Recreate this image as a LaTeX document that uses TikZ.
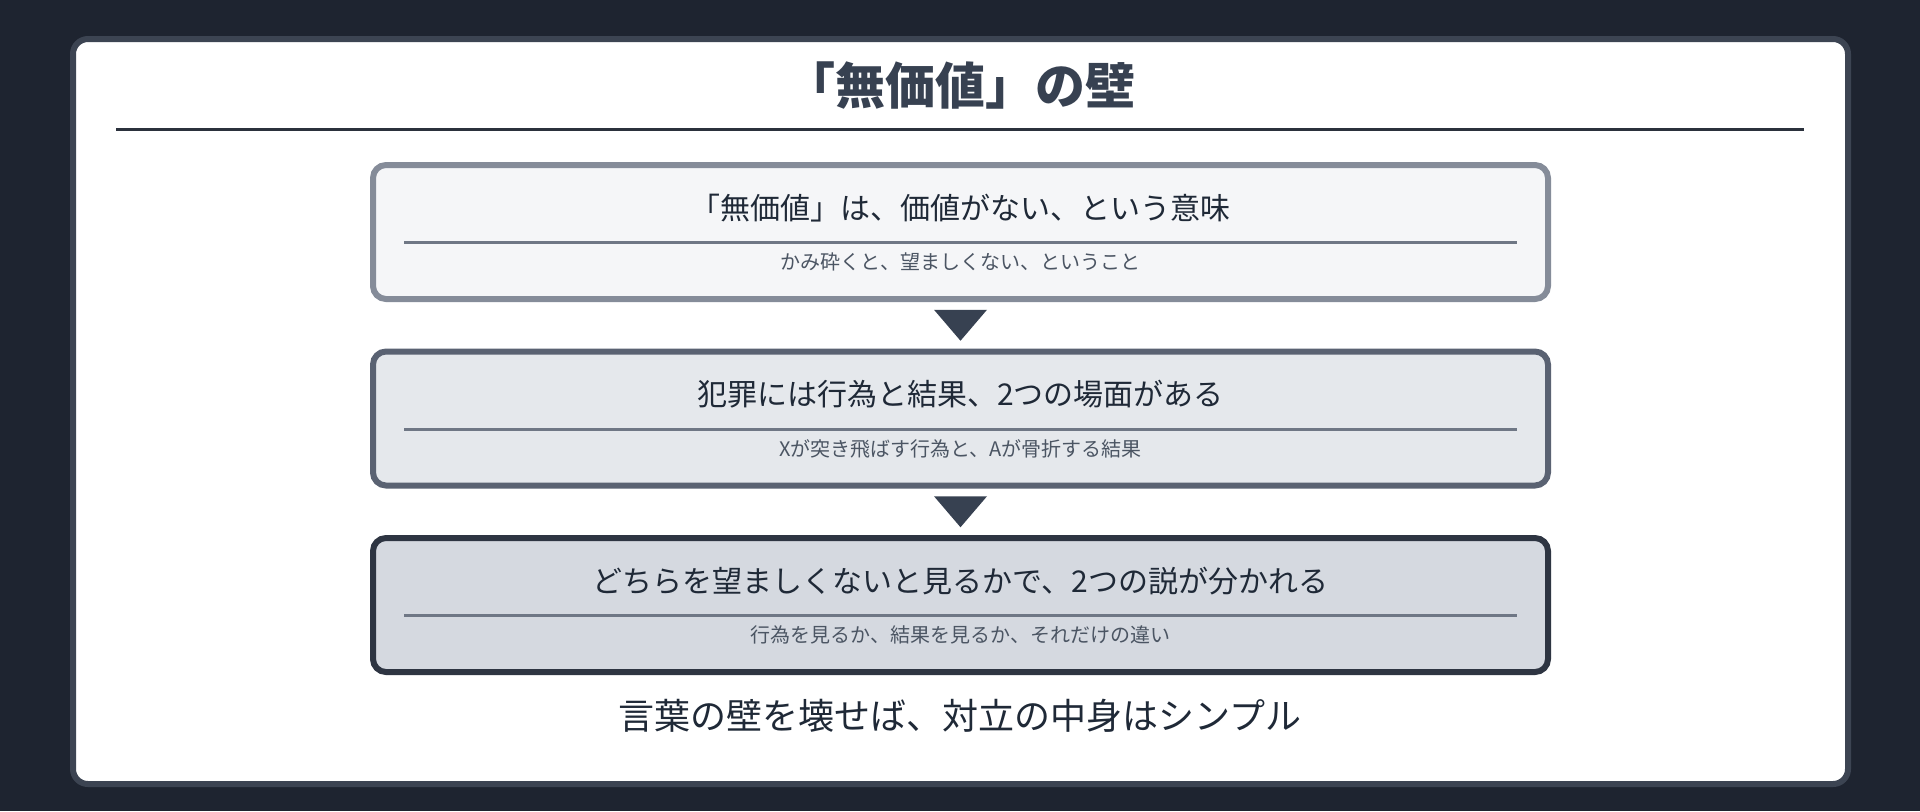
\documentclass[tikz,border=0pt]{standalone}
\usepackage{fontspec}
\setmainfont{Noto Sans CJK JP}
\usepackage{tikz}
\usetikzlibrary{calc}

\definecolor{pagebg}{HTML}{1E2430}
\definecolor{cardline}{HTML}{3C4452}
\definecolor{titlecol}{HTML}{374151}
\definecolor{maincol}{HTML}{1F2937}
\definecolor{subcol}{HTML}{4B5563}
\definecolor{rulecol}{HTML}{6F7785}
\definecolor{headrule}{HTML}{2B313C}
\definecolor{lineA}{HTML}{858C99}
\definecolor{fillA}{HTML}{F5F6F8}
\definecolor{lineB}{HTML}{5A6272}
\definecolor{fillB}{HTML}{E5E8EC}
\definecolor{lineC}{HTML}{2E3542}
\definecolor{fillC}{HTML}{D5D9E0}

\begin{document}
\begin{tikzpicture}[x=0.5pt,y=-0.5pt]
      \tikzset{stagebox/.style 2 args={draw=#1,
          fill=#2,
          line width=3pt,
          rounded corners=6.5pt,
          minimum width=587.5pt,
          minimum height=67pt,
          inner sep=0pt},
        headtext/.style={text=maincol,font=\fontsize{15pt}{18pt}\selectfont,inner sep=0pt},
        subtext/.style={text=subcol,font=\fontsize{10pt}{12pt}\selectfont,inner sep=0pt},
        innerrule/.style={draw=rulecol,line width=1.5pt},
        downmark/.style={fill=titlecol}
      }
      \fill [pagebg] (0,0) rectangle (1920,811);
      \useasboundingbox (0,0) rectangle (1920,811);
      \node [draw=cardline,fill=white,line width=3pt,rounded corners=7.5pt,
        minimum width=887.5pt,minimum height=372.5pt,inner sep=0pt] (card) at (960.5,411.5) {};

      \node [text=titlecol,font=\fontsize{25pt}{30pt}\selectfont\bfseries,inner sep=0pt] (title) at (960,86) {「無価値」の壁};
      \draw [draw=headrule,line width=1.5pt] (116,129) -- (1804,129);

      \node [stagebox={lineA}{fillA}] (b1) at (960.5,232) {};
      \node [stagebox={lineB}{fillB}] (b2) at (960.5,418.5) {};
      \node [stagebox={lineC}{fillC}] (b3) at (960.5,605) {};

      \node [headtext] (t1) at ($(b1.north)+(0,46)$) {「無価値」は、価値がない、という意味};
      \node [subtext] (s1) at ($(b1.north)+(0,100)$) {かみ砕くと、望ましくない、ということ};
      \node [headtext] (t2) at ($(b2.north)+(0,46)$) {犯罪には行為と結果、2つの場面がある};
      \node [subtext] (s2) at ($(b2.north)+(0,100)$) {Xが突き飛ばす行為と、Aが骨折する結果};
      \node [headtext] (t3) at ($(b3.north)+(0,46)$) {どちらを望ましくないと見るかで、2つの説が分かれる};
      \node [subtext] (s3) at ($(b3.north)+(0,100)$) {行為を見るか、結果を見るか、それだけの違い};

      \draw [innerrule] ($(b1.north)+(-556.5,80.5)$) -- ($(b1.north)+(556.5,80.5)$);
      \draw [innerrule] ($(b2.north)+(-556.5,80.5)$) -- ($(b2.north)+(556.5,80.5)$);
      \draw [innerrule] ($(b3.north)+(-556.5,80.5)$) -- ($(b3.north)+(556.5,80.5)$);

      \coordinate (m1) at ($(b1.south)!0.5!(b2.north)$);
      \coordinate (m2) at ($(b2.south)!0.5!(b3.north)$);
      \fill [downmark] ($(m1)+(-26.5,-15.5)$) -- ($(m1)+(26.5,-15.5)$) -- ($(m1)+(0,15.5)$) -- cycle;
      \fill [downmark] ($(m2)+(-26.5,-15.5)$) -- ($(m2)+(26.5,-15.5)$) -- ($(m2)+(0,15.5)$) -- cycle;

      \node [text=maincol,font=\fontsize{18pt}{22pt}\selectfont,inner sep=0pt] (closing) at (960,716) {言葉の壁を壊せば、対立の中身はシンプル};
    \end{tikzpicture}
\end{document}
